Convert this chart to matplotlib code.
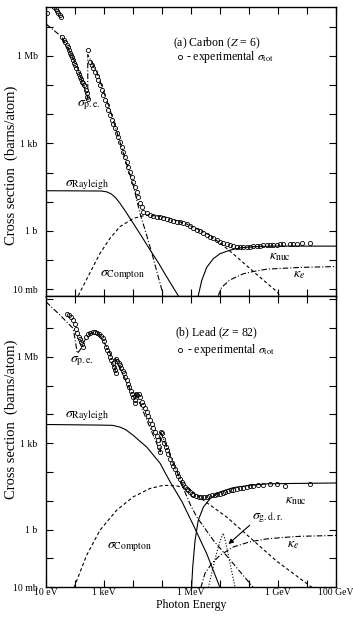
import numpy as np
import matplotlib
matplotlib.use('Agg')
import matplotlib.pyplot as plt
from matplotlib.ticker import FixedLocator, FixedFormatter, NullLocator

plt.rcParams['font.family'] = ['Liberation Serif', 'DejaVu Serif']
plt.rcParams['mathtext.fontset'] = 'stix'

# ---------------- axis ticks ----------------
x_tick_log = [1, 2, 3, 4, 5, 6, 7, 8, 9, 10, 11]
x_tick_labels = {1: '10 eV', 3: '1 keV', 6: '1 MeV', 9: '1 GeV', 11: '100 GeV'}
y_tick_labels = {-2: '10 mb', 0: '1 b', 3: '1 kb', 6: '1 Mb'}

# ---------------- (a) Carbon : log10(E/eV), log10(sigma/b) ----------------
c_tot_logE = [1.02, 1.29, 1.33, 1.38, 1.43, 1.47, 1.52,
              1.54, 1.62, 1.67, 1.71, 1.75, 1.78, 1.83, 1.86, 1.90, 1.94, 1.98, 2.01,
              2.05, 2.09, 2.13, 2.17, 2.21, 2.24, 2.29, 2.32, 2.38, 2.40, 2.43, 2.45,
              2.46,
              2.52, 2.57, 2.63, 2.69, 2.75, 2.80, 2.86, 2.92, 2.98, 3.03, 3.09, 3.15,
              3.21, 3.26, 3.32, 3.38, 3.44, 3.49, 3.55, 3.61, 3.67, 3.72, 3.78, 3.84,
              3.90, 3.95, 4.01, 4.07, 4.13, 4.18, 4.24, 4.30, 4.36,
              4.47, 4.59, 4.70, 4.82, 4.93, 5.05, 5.16, 5.28, 5.39, 5.51, 5.62, 5.74,
              5.85, 5.97, 6.08, 6.20, 6.31, 6.43, 6.54, 6.66, 6.77, 6.89, 7.00, 7.11,
              7.23, 7.34, 7.46, 7.57, 7.69, 7.80, 7.92, 8.03, 8.15, 8.26, 8.38, 8.49,
              8.61, 8.72, 8.84, 8.95, 9.07, 9.18, 9.41, 9.53, 9.64, 9.82, 10.10]
c_tot_logS = [7.46, 7.67, 7.61, 7.54, 7.47, 7.39, 7.33,
              6.66, 6.55, 6.47, 6.38, 6.30, 6.21, 6.11, 6.03, 5.95, 5.86, 5.77, 5.69,
              5.58, 5.46, 5.38, 5.29, 5.20, 5.12, 5.06, 5.01, 4.83, 4.72, 4.61, 4.54,
              6.21,
              5.81, 5.69, 5.58, 5.46, 5.31, 5.18, 5.01, 4.83, 4.66, 4.49, 4.32, 4.15,
              3.98, 3.81, 3.67, 3.52, 3.37, 3.23, 3.06, 2.89, 2.72, 2.55, 2.38, 2.21,
              2.03, 1.86, 1.69, 1.52, 1.35, 1.15, 0.97, 0.81, 0.66,
              0.61, 0.55, 0.51, 0.49, 0.47, 0.43, 0.41, 0.38, 0.35, 0.32, 0.30, 0.26,
              0.23, 0.17, 0.11, 0.05, -0.01, -0.08, -0.14, -0.19, -0.25, -0.31, -0.37, -0.41,
              -0.46, -0.49, -0.51, -0.54, -0.55, -0.55, -0.55, -0.54, -0.53, -0.51, -0.50, -0.49,
              -0.48, -0.48, -0.47, -0.47, -0.46, -0.46, -0.45, -0.45, -0.45, -0.43, -0.42]

c_pe_logE = [1.00, 1.54, 2.06, 2.44, 2.44, 2.75, 3.21, 3.67, 4.00, 4.24, 4.47, 4.70, 4.87, 5.05]
c_pe_logS = [7.10, 6.66, 5.69, 4.55, 6.05, 5.46, 4.15, 2.66, 1.60, 0.61, -0.14, -0.94, -1.57, -2.22]

c_ray_logE = [1.00, 2.90, 3.10, 3.25, 3.40, 3.55, 3.75, 4.01, 4.30, 4.59, 4.88, 5.16, 5.56]
c_ray_logS = [1.38, 1.37, 1.34, 1.27, 1.14, 0.95, 0.66, 0.26, -0.19, -0.65, -1.10, -1.57, -2.22]

c_comp_logE = [2.11, 2.40, 2.86, 3.21, 3.55, 4.01, 4.47, 5.16, 5.85, 6.54, 7.00, 7.46, 8.15, 8.97, 9.07]
c_comp_logS = [-2.22, -1.66, -0.77, -0.25, 0.15, 0.43, 0.55, 0.47, 0.24, -0.08, -0.41, -0.79, -1.39, -2.09, -2.22]

c_knuc_logE = [6.25, 6.37, 6.54, 6.77, 7.00, 7.34, 7.69, 8.15, 8.84, 11.0]
c_knuc_logS = [-2.22, -1.70, -1.25, -0.95, -0.78, -0.66, -0.58, -0.54, -0.52, -0.52]

c_ke_logE = [6.94, 7.06, 7.34, 7.80, 8.15, 8.61, 9.18, 9.76, 11.0]
c_ke_logS = [-2.22, -1.93, -1.68, -1.47, -1.39, -1.31, -1.28, -1.25, -1.22]

# ---------------- (b) Lead ----------------
p_tot_logE = [1.71, 1.79, 1.86, 1.94, 2.00, 2.03, 2.08, 2.13, 2.17, 2.22, 2.25, 2.29,
              2.38, 2.44, 2.52, 2.61, 2.69, 2.77, 2.84, 2.90, 2.95, 3.01,
              3.07, 3.11, 3.16, 3.21, 3.25, 3.30, 3.34, 3.38, 3.40,
              3.41, 3.46, 3.51, 3.55, 3.60, 3.64, 3.69, 3.74, 3.78, 3.83, 3.87, 3.92,
              3.97, 4.01, 4.06, 4.08,
              4.10, 4.15, 4.20, 4.24, 4.30, 4.36, 4.41, 4.47, 4.53, 4.59, 4.64, 4.70,
              4.76, 4.82, 4.87, 4.91, 4.93,
              4.97, 5.00, 5.05, 5.08, 5.13, 5.16, 5.22, 5.28, 5.33, 5.39,
              5.45, 5.51, 5.56, 5.62, 5.68, 5.74, 5.79, 5.85, 5.91, 5.97,
              6.02, 6.08, 6.17, 6.26, 6.36, 6.45, 6.54, 6.63, 6.72, 6.82,
              6.91, 7.00, 7.09, 7.18, 7.28, 7.37, 7.46, 7.57, 7.69, 7.80,
              7.92, 8.03, 8.15, 8.32, 8.49, 8.72, 8.95, 9.24, 10.10]
p_tot_logS = [7.50, 7.45, 7.39, 7.27, 7.13, 6.98, 6.81, 6.69, 6.60, 6.52, 6.44, 6.35,
              6.69, 6.78, 6.83, 6.86, 6.86, 6.83, 6.79, 6.72, 6.64, 6.56,
              6.35, 6.23, 6.12, 6.00, 5.88, 5.77, 5.65, 5.54, 5.44,
              5.91, 5.86, 5.79, 5.71, 5.62, 5.51, 5.42, 5.31, 5.19, 5.07, 4.94, 4.82,
              4.70, 4.59, 4.50, 4.38,
              4.70, 4.67, 4.70, 4.61, 4.44, 4.32, 4.21, 4.09, 3.94, 3.80, 3.66, 3.52,
              3.38, 3.25, 3.11, 2.88, 2.70,
              3.40, 3.34, 3.16, 3.01, 2.88, 2.76, 2.61, 2.47, 2.33, 2.22,
              2.10, 1.98, 1.87, 1.76, 1.66, 1.58, 1.49, 1.42, 1.36, 1.30,
              1.25, 1.22, 1.17, 1.14, 1.13, 1.13, 1.14, 1.16, 1.19, 1.21,
              1.23, 1.25, 1.28, 1.31, 1.34, 1.36, 1.38, 1.42, 1.44, 1.46,
              1.49, 1.51, 1.53, 1.54, 1.56, 1.57, 1.58, 1.53, 1.60]

p_pe_logE = [1.00, 1.48, 1.94, 2.08, 2.17, 2.34, 2.52, 2.75, 2.92, 3.21, 3.38, 3.40,
             4.07, 4.09, 4.94, 4.95, 5.16, 5.39, 5.62, 5.79, 5.97, 6.20, 6.77, 7.46, 8.15]
p_pe_logS = [7.91, 7.45, 6.98, 6.12, 6.23, 6.58, 6.81, 6.87, 6.64, 6.12, 5.48, 5.94,
             4.50, 4.73, 2.70, 3.40, 2.88, 2.30, 1.78, 1.31, 0.88, 0.44, -0.37, -1.18, -2.01]

p_ray_logE = [1.00, 2.86, 3.30, 3.55, 3.75, 4.00, 4.48, 4.93, 5.28, 5.69, 6.08, 6.54, 7.00]
p_ray_logS = [3.65, 3.63, 3.62, 3.56, 3.47, 3.28, 2.86, 2.31, 1.66, 0.97, 0.16, -0.83, -2.01]

p_comp_logE = [1.97, 2.11, 2.40, 2.86, 3.44, 4.01, 4.59, 5.05, 5.51, 5.97, 6.43, 7.23, 8.03, 8.95, 10.18]
p_comp_logS = [-2.01, -1.64, -0.89, -0.02, 0.68, 1.14, 1.43, 1.54, 1.52, 1.39, 1.02, 0.44, -0.27, -1.09, -2.01]

p_knuc_logE = [6.02, 6.06, 6.14, 6.25, 6.43, 6.66, 7.00, 7.46, 8.03, 8.61, 9.18, 11.0]
p_knuc_logS = [-2.01, -1.29, -0.37, 0.33, 0.79, 1.08, 1.31, 1.46, 1.54, 1.59, 1.60, 1.62]

p_ke_logE = [6.34, 6.48, 6.71, 7.00, 7.46, 8.03, 8.61, 9.18, 9.76, 11.0]
p_ke_logS = [-2.01, -1.52, -1.18, -0.89, -0.60, -0.42, -0.32, -0.27, -0.23, -0.20]

p_gdr_logE = [6.60, 6.75, 6.90, 7.02, 7.11, 7.20, 7.32, 7.44, 7.52]
p_gdr_logS = [-2.01, -1.35, -0.75, -0.35, -0.12, -0.45, -1.05, -1.62, -2.01]

# ---------------- figure ----------------
W, H = 353, 618
fig = plt.figure(figsize=(W / 100, H / 100), dpi=100)
xl, xr = 46 / W, 336 / W
y_top, y_mid, y_bot = 6.7, 295.7, 587.3
ax1 = fig.add_axes([xl, 1 - y_mid / H, xr - xl, (y_mid - y_top) / H])
ax2 = fig.add_axes([xl, 1 - y_bot / H, xr - xl, (y_bot - y_mid) / H])

LW = 0.8
dash = (0, (3.0, 2.2))
dashdot = (0, (5.0, 1.8, 1.0, 1.8))
dotted = (0, (1.0, 1.6))


def P(a):
    return 10.0 ** np.asarray(a)


def style_axes(ax, ylo, yhi, show_x):
    ax.set_xscale('log')
    ax.set_yscale('log')
    ax.set_xlim(10 ** 1, 10 ** 11)
    ax.set_ylim(10 ** ylo, 10 ** yhi)
    ax.xaxis.set_major_locator(FixedLocator(P(x_tick_log)))
    ax.xaxis.set_minor_locator(NullLocator())
    if show_x:
        ax.xaxis.set_major_formatter(FixedFormatter([x_tick_labels.get(k, '') for k in x_tick_log]))
    else:
        ax.xaxis.set_major_formatter(FixedFormatter([''] * len(x_tick_log)))
    ydec = list(range(int(np.floor(ylo)), int(np.ceil(yhi)) + 1))
    ax.yaxis.set_major_locator(FixedLocator(P(ydec)))
    ax.yaxis.set_minor_locator(NullLocator())
    ax.yaxis.set_major_formatter(FixedFormatter([y_tick_labels.get(k, '') for k in ydec]))
    ax.tick_params(which='major', direction='in', top=True, right=True,
                   length=4.8, width=0.8, labelsize=7)
    ax.tick_params(axis='x', pad=0.8)
    ax.tick_params(axis='y', pad=6.0)
    for s in ax.spines.values():
        s.set_linewidth(1.0)


def draw_panel(ax, tot, pe, ray, comp, knuc, ke):
    ax.plot(P(pe[0]), P(pe[1]), color='k', lw=LW, ls=dashdot)
    ax.plot(P(ray[0]), P(ray[1]), color='k', lw=LW, ls='-')
    ax.plot(P(comp[0]), P(comp[1]), color='k', lw=LW, ls=dash)
    ax.plot(P(knuc[0]), P(knuc[1]), color='k', lw=LW, ls='-')
    ax.plot(P(ke[0]), P(ke[1]), color='k', lw=LW, ls=dashdot)
    ax.plot(P(tot[0]), P(tot[1]), ls='none', marker='o', ms=3.0, mew=0.6,
            mfc='none', mec='k')


style_axes(ax1, -2.22, 7.69, False)
style_axes(ax2, -2.0, 8.12, True)

draw_panel(ax1, (c_tot_logE, c_tot_logS), (c_pe_logE, c_pe_logS), (c_ray_logE, c_ray_logS),
           (c_comp_logE, c_comp_logS), (c_knuc_logE, c_knuc_logS), (c_ke_logE, c_ke_logS))
draw_panel(ax2, (p_tot_logE, p_tot_logS), (p_pe_logE, p_pe_logS), (p_ray_logE, p_ray_logS),
           (p_comp_logE, p_comp_logS), (p_knuc_logE, p_knuc_logS), (p_ke_logE, p_ke_logS))
ax2.plot(P(p_gdr_logE), P(p_gdr_logS), color='k', lw=LW, ls=dotted)

LFS = 10


def lab(ax, le, ls_, s):
    ax.text(10 ** le, 10 ** ls_, s, fontsize=LFS, ha='left', va='center')


lab(ax1, 2.07, 4.30, r'$\sigma_{\mathrm{p.e.}}$')
lab(ax1, 1.66, 1.58, r'$\sigma_{\mathrm{Rayleigh}}$')
lab(ax1, 2.86, -1.51, r'$\sigma_{\mathrm{Compton}}$')
lab(ax1, 8.69, -0.89, r'$\kappa_{\mathrm{nuc}}$')
lab(ax1, 9.52, -1.51, r'$\kappa_{e}$')

lab(ax2, 1.83, 5.85, r'$\sigma_{\mathrm{p.e.}}$')
lab(ax2, 1.66, 3.94, r'$\sigma_{\mathrm{Rayleigh}}$')
lab(ax2, 3.10, -0.61, r'$\sigma_{\mathrm{Compton}}$')
lab(ax2, 9.24, 1.02, r'$\kappa_{\mathrm{nuc}}$')
lab(ax2, 9.31, -0.50, r'$\kappa_{e}$')
lab(ax2, 8.12, 0.40, r'$\sigma_{\mathrm{g.d.r.}}$')
ax2.annotate('', xy=(10 ** 7.29, 10 ** -0.50), xytext=(10 ** 8.02, 10 ** 0.15),
             arrowprops=dict(arrowstyle='-|>', color='k', lw=0.8,
                             mutation_scale=7, shrinkA=0, shrinkB=0))

TFS = 8.5
ax1.text(0.438, 0.874, r'(a) Carbon ($Z$ = 6)', transform=ax1.transAxes,
         fontsize=TFS, ha='left', va='center')
ax1.plot([0.462], [0.826], transform=ax1.transAxes, marker='o', ms=3.0, mew=0.6,
         mfc='none', mec='k', ls='none')
ax1.text(0.483, 0.826, r'- experimental $\sigma_{\mathrm{tot}}$', transform=ax1.transAxes,
         fontsize=TFS, ha='left', va='center')

ax2.text(0.445, 0.872, r'(b) Lead ($Z$ = 82)', transform=ax2.transAxes,
         fontsize=TFS, ha='left', va='center')
ax2.plot([0.462], [0.814], transform=ax2.transAxes, marker='o', ms=3.0, mew=0.6,
         mfc='none', mec='k', ls='none')
ax2.text(0.486, 0.814, r'- experimental $\sigma_{\mathrm{tot}}$', transform=ax2.transAxes,
         fontsize=TFS, ha='left', va='center')

fig.text(11 / W, 1 - 165 / H, 'Cross section  (barns/atom)', rotation=90,
         fontsize=10.5, ha='center', va='center')
fig.text(11 / W, 1 - 419 / H, 'Cross section  (barns/atom)', rotation=90,
         fontsize=10.5, ha='center', va='center')
fig.text(191 / W, 1 - 605 / H, 'Photon Energy', fontsize=8.5, ha='center', va='center')

fig.savefig('out.png', dpi=100)
